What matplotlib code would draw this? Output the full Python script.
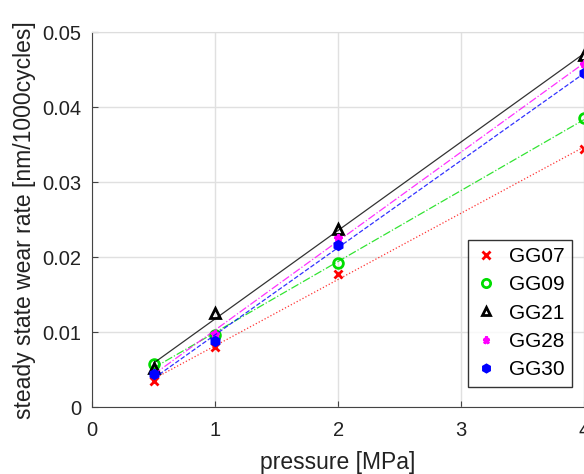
import numpy as np
import matplotlib
matplotlib.use("Agg")
from matplotlib import pyplot as plt

plt.rcParams['font.family'] = ['Liberation Sans', 'DejaVu Sans']

pressure = [0.5, 1, 2, 4]
names = ["GG07", "GG09", "GG21", "GG28", "GG30"]
gg07 = [0.0035, 0.0080, 0.0178, 0.0344]
gg09 = [0.0057, 0.0096, 0.0192, 0.0385]
gg21 = [0.0052, 0.0125, 0.0237, 0.0470]
gg28 = [0.0046, 0.0098, 0.0225, 0.0458]
gg30 = [0.0044, 0.0088, 0.0216, 0.0445]
series = [gg07, gg09, gg21, gg28, gg30]

colors = ["#ff0000", "#00dd00", "#000000", "#ff00ff", "#0000ff"]
markers = ["x", "o", "^", "*", "h"]
styles = [":", "-.", "-", "-.", "--"]

fig = plt.figure(figsize=(5.84, 4.74), dpi=100)
ax = fig.add_axes([0.158, 0.141, 0.842, 0.791])

xs = np.array([0.5, 4.0])
for name, y, c, m, ls in zip(names, series, colors, markers, styles):
    k, b = np.polyfit(pressure, y, 1)
    ax.plot(xs, k * xs + b, ls, color=c, lw=0.9, alpha=0.8)
    if m == "o" or m == "^":
        ax.plot(pressure, y, m, mfc="none", mec=c, mew=2, ms=7, label=name,
                clip_on=False)
    else:
        ax.plot(pressure, y, m, color=c, mec=c, mew=2, ms=6, label=name,
                clip_on=False)

ax.set_xlim(0, 4)
ax.set_ylim(0, 0.05)
ax.set_xticks([0, 1, 2, 3, 4])
ax.set_yticks([0, 0.01, 0.02, 0.03, 0.04, 0.05])
ax.set_yticklabels(["0", "0.01", "0.02", "0.03", "0.04", "0.05"])
ax.grid(True, color="#e0e0e0", lw=1)
ax.set_axisbelow(True)
ax.tick_params(direction="in", labelsize=14.5, length=4, color="#444444",
               labelcolor="#222222")
ax.tick_params(axis="x", pad=10)
ax.tick_params(axis="y", pad=8)
for s in ["left", "bottom"]:
    ax.spines[s].set_color("#444444")
for s in ["top", "right"]:
    ax.spines[s].set_color("#dddddd")
ax.set_xlabel("pressure [MPa]", fontsize=16.5, color="#222222", labelpad=8)
ax.set_ylabel("steady state wear rate [nm/1000cycles]", fontsize=16.5,
              color="#222222", labelpad=4)

leg = ax.legend(loc="upper right", bbox_to_anchor=(0.975, 0.447),
                fontsize=15, frameon=True, fancybox=False, handletextpad=0.6,
                borderpad=0.35, labelspacing=0.45, handlelength=1.0,
                borderaxespad=0, markerscale=0.85)
leg.get_frame().set_edgecolor("black")
leg.get_frame().set_linewidth(1)

fig.savefig("out.png", dpi=100)
